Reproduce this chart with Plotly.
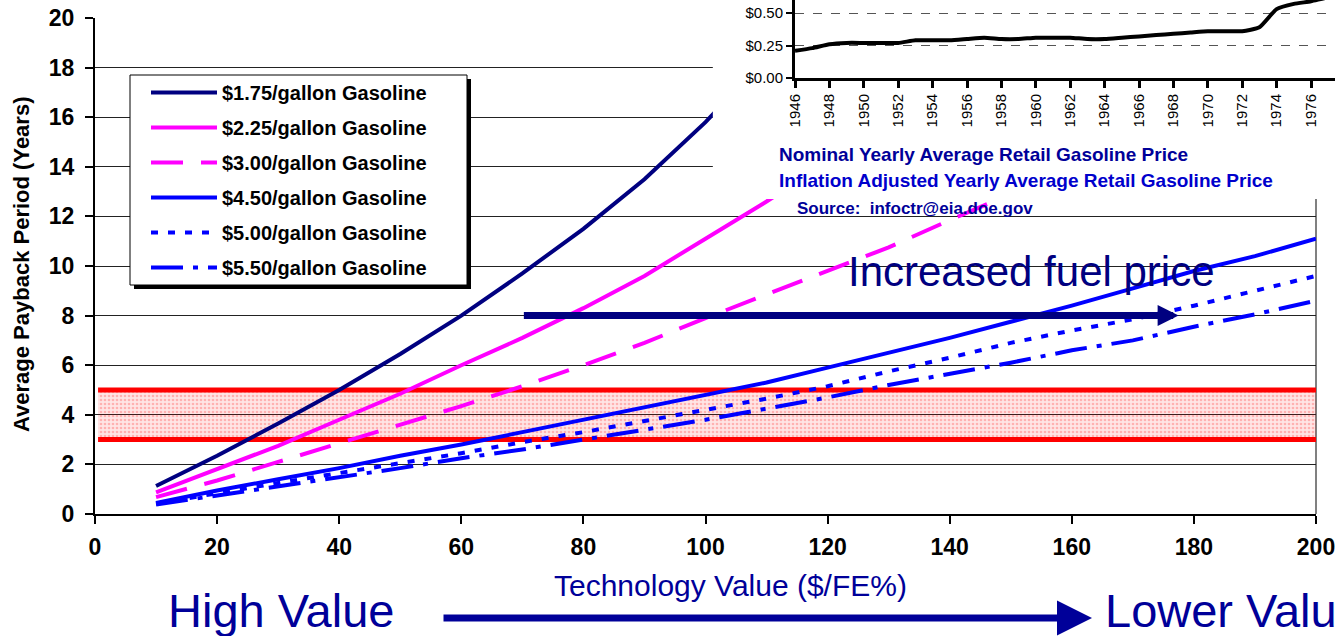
import plotly.graph_objects as go

# ---------------- data ----------------
tech_value = [10, 20, 30, 40, 50, 60, 70, 80, 90, 100,
              110, 120, 130, 140, 150, 160, 170, 180, 190, 200]
payback_175 = [1.13, 2.35, 3.65, 5.0, 6.45, 8.0, 9.7, 11.5, 13.5, 15.8,
               18.4, 21.2, None, None, None, None, None, None, None, None]
payback_225 = [0.87, 1.8, 2.75, 3.8, 4.85, 6.0, 7.1, 8.3, 9.6, 11.1,
               12.6, 14.2, 15.9, None, None, None, None, None, None, None]
payback_300 = [0.68, 1.35, 2.1, 2.85, 3.6, 4.35, 5.15, 6.0, 6.9, 7.9,
               8.85, 9.8, 10.75, 11.85, 12.9, 14.0, None, None, None, None]
payback_450 = [0.45, 0.95, 1.4, 1.85, 2.35, 2.8, 3.3, 3.8, 4.3, 4.8,
               5.3, 5.9, 6.5, 7.1, 7.75, 8.4, 9.1, 9.8, 10.4, 11.1]
payback_500 = [0.42, 0.85, 1.25, 1.65, 2.05, 2.45, 2.9, 3.3, 3.75, 4.2,
               4.65, 5.15, 5.75, 6.3, 6.9, 7.4, 7.85, 8.4, 9.0, 9.6]
payback_550 = [0.38, 0.75, 1.1, 1.45, 1.85, 2.25, 2.6, 3.0, 3.4, 3.8,
               4.25, 4.7, 5.2, 5.65, 6.1, 6.6, 7.0, 7.55, 8.05, 8.6]

series_names = ["$1.75/gallon Gasoline", "$2.25/gallon Gasoline",
                "$3.00/gallon Gasoline", "$4.50/gallon Gasoline",
                "$5.00/gallon Gasoline", "$5.50/gallon Gasoline"]

band_x = [0.5, 200]
band_low = [3, 3]
band_high = [5, 5]

years = [1946, 1947, 1948, 1949, 1950, 1951, 1952, 1953, 1954, 1955, 1956,
         1957, 1958, 1959, 1960, 1961, 1962, 1963, 1964, 1965, 1966, 1967,
         1968, 1969, 1970, 1971, 1972, 1973, 1974, 1975, 1976, 1977, 1978]
nominal_price = [0.21, 0.23, 0.26, 0.27, 0.27, 0.27, 0.27, 0.29, 0.29, 0.29,
                 0.30, 0.31, 0.30, 0.30, 0.31, 0.31, 0.31, 0.30, 0.30, 0.31,
                 0.32, 0.33, 0.34, 0.35, 0.36, 0.36, 0.36, 0.39, 0.53, 0.57,
                 0.59, 0.62, 0.63]

x_ticks = list(range(0, 201, 20))
y_ticks = list(range(0, 21, 2))
year_ticks = list(range(1946, 1977, 2))
price_ticks = [0.0, 0.25, 0.5]

# ---------------- layout helpers ----------------
W, H = 1335, 636
ML, MR, MT, MB = 95, 0, 0, 122
PW, PH = W - ML - MR, H - MT - MB


def px(xp):
    return (xp - ML) / PW


def py(yp):
    return (PH + MT - yp) / PH


FONT = "Liberation Sans, Arial, sans-serif"
NAVY = "#000080"
TXT_BLUE = "#000099"

fig = go.Figure()

# red acceptable band
fig.add_trace(go.Scatter(x=band_x, y=band_low, mode="lines",
                         line=dict(color="#FF0000", width=5),
                         showlegend=False, hoverinfo="skip"))
fig.add_trace(go.Scatter(x=band_x, y=band_high, mode="lines",
                         line=dict(color="#FF0000", width=5),
                         fill="tonexty", fillcolor="rgba(255,0,0,0.10)",
                         fillpattern=dict(shape=".", fgcolor="rgba(255,40,40,0.55)",
                                          size=4, solidity=0.35, fillmode="overlay"),
                         showlegend=False, hoverinfo="skip"))

styles = [
    (payback_175, NAVY, "solid"),
    (payback_225, "#FF00FF", "solid"),
    (payback_300, "#FF00FF", "32px,18px"),
    (payback_450, "#0000FF", "solid"),
    (payback_500, "#0000FF", "7px,10px"),
    (payback_550, "#0000FF", "32px,10px,5px,10px"),
]
for i, (vals, col, dash) in enumerate(styles):
    fig.add_trace(go.Scatter(x=tech_value, y=vals, mode="lines", name=series_names[i],
                             legendgroup=f"g{i}",
                             line=dict(color=col, width=4, dash=dash)))

# white panel behind the inset chart
fig.add_trace(go.Scatter(x=[101.2, 101.2, 215, 215], y=[12.7, 25, 25, 12.7],
                         fill="toself", fillcolor="white", mode="lines",
                         line=dict(width=0, color="white"),
                         showlegend=False, hoverinfo="skip"))

# inset chart
fig.add_trace(go.Scatter(x=years, y=nominal_price, mode="lines",
                         line=dict(color="black", width=4, shape="spline", smoothing=0.5),
                         xaxis="x2", yaxis="y2", showlegend=False))

tickfont = dict(family=FONT, size=23, color="black", weight="bold")

fig.update_layout(
    width=W, height=H,
    margin=dict(l=ML, r=MR, t=MT, b=MB, autoexpand=False),
    paper_bgcolor="white", plot_bgcolor="white",
    xaxis=dict(domain=[0, px(1316)], range=[0, 200], tickvals=x_ticks,
               showgrid=False, zeroline=False, showline=True, linecolor="black",
               linewidth=2, ticks="outside", ticklen=8, tickwidth=1.5,
               tickcolor="black", tickfont=tickfont, ticklabelstandoff=3,
               automargin=False, ticklabeloverflow="allow"),
    yaxis=dict(domain=[0, py(18)], range=[0, 20], tickvals=y_ticks,
               showgrid=True, gridcolor="#222222", gridwidth=1, zeroline=False,
               showline=True, linecolor="black", linewidth=2, ticks="outside",
               ticklen=8, tickwidth=1.5, tickcolor="black", tickfont=tickfont,
               ticklabelstandoff=6, automargin=False, ticklabeloverflow="allow"),
    xaxis2=dict(domain=[px(795), 1], range=[1946, 1946 + (1335 - 795) / 17.2],
                anchor="y2", tickvals=year_ticks, tickangle=-90, showgrid=False,
                zeroline=False, showline=True, linecolor="black", linewidth=3,
                ticks="outside", ticklen=7, tickwidth=3, tickcolor="black",
                automargin=False,
                tickfont=dict(family=FONT, size=15, color="black")),
    yaxis2=dict(domain=[py(78), 1], range=[0, 0.6], anchor="x2",
                tickvals=price_ticks, tickformat="$.2f", showgrid=True,
                gridcolor="#555555", griddash="dash", gridwidth=1, zeroline=False,
                showline=True, linecolor="black", linewidth=3, ticks="outside",
                ticklen=6, tickwidth=2, tickcolor="black", automargin=False,
                tickfont=dict(family=FONT, size=15, color="black")),
    legend=dict(x=px(146), y=py(73), xanchor="left", yanchor="top",
                bgcolor="rgba(0,0,0,0)", borderwidth=0, traceorder="grouped",
                tracegroupgap=6, itemwidth=66,
                font=dict(family=FONT, size=20, color="black", weight="bold")),
    showlegend=True,
)

# legend box with shadow
fig.add_shape(type="rect", xref="paper", yref="paper",
              x0=px(134), x1=px(471), y0=py(289), y1=py(79),
              fillcolor="black", line=dict(width=0), layer="above")
fig.add_shape(type="rect", xref="paper", yref="paper",
              x0=px(130), x1=px(467), y0=py(285), y1=py(75),
              fillcolor="white", line=dict(color="black", width=1), layer="above")

# right border of plot area
fig.add_shape(type="line", xref="x domain", yref="y", x0=1, x1=1, y0=0, y1=12.7,
              line=dict(color="#808080", width=2), layer="below")


def note(text, x, y, size, color, xanchor="center", bold=False, xref="paper",
         yref="paper", **kw):
    f = dict(family=FONT, size=size, color=color)
    if bold:
        f["weight"] = "bold"
    return dict(text=text, x=x, y=y, xref=xref, yref=yref, xanchor=xanchor,
                yanchor="middle", showarrow=False, font=f, **kw)


ann = [
    note("Average Payback Period (Years)", px(21), py(265), 22, "black",
         bold=True, textangle=-90),
    note("Technology Value ($/FE%)", px(730), py(585), 30, TXT_BLUE),
    note("High Value", px(281), py(610), 47, TXT_BLUE),
    note("Lower Value", px(1103), py(610), 47, TXT_BLUE, xanchor="left"),
    note("Increased fuel price", 123, 9.76, 42, NAVY, xanchor="left",
         xref="x", yref="y"),
    note("Nominal Yearly Average Retail Gasoline Price", px(777), py(154), 19,
         TXT_BLUE, xanchor="left", bold=True),
    note("Inflation Adjusted Yearly Average Retail Gasoline Price", px(777),
         py(180), 19, "#0000CC", xanchor="left", bold=True),
    note("Source:&nbsp; infoctr@eia.doe.gov", px(795), py(208), 17, TXT_BLUE,
         xanchor="left", bold=True),
    dict(text="", x=px(1092), y=py(618), xref="paper", yref="paper",
         ax=-650, ay=0, axref="pixel", ayref="pixel", showarrow=True,
         arrowhead=2, arrowsize=1.0, arrowwidth=7, arrowcolor=TXT_BLUE),
    dict(text="", x=177.5, y=8, ax=70, ay=8, xref="x", yref="y",
         axref="x", ayref="y", showarrow=True, arrowhead=2, arrowsize=0.6,
         arrowwidth=7, arrowcolor=NAVY),
]
fig.update_layout(annotations=ann)

fig.write_html("out.html")
